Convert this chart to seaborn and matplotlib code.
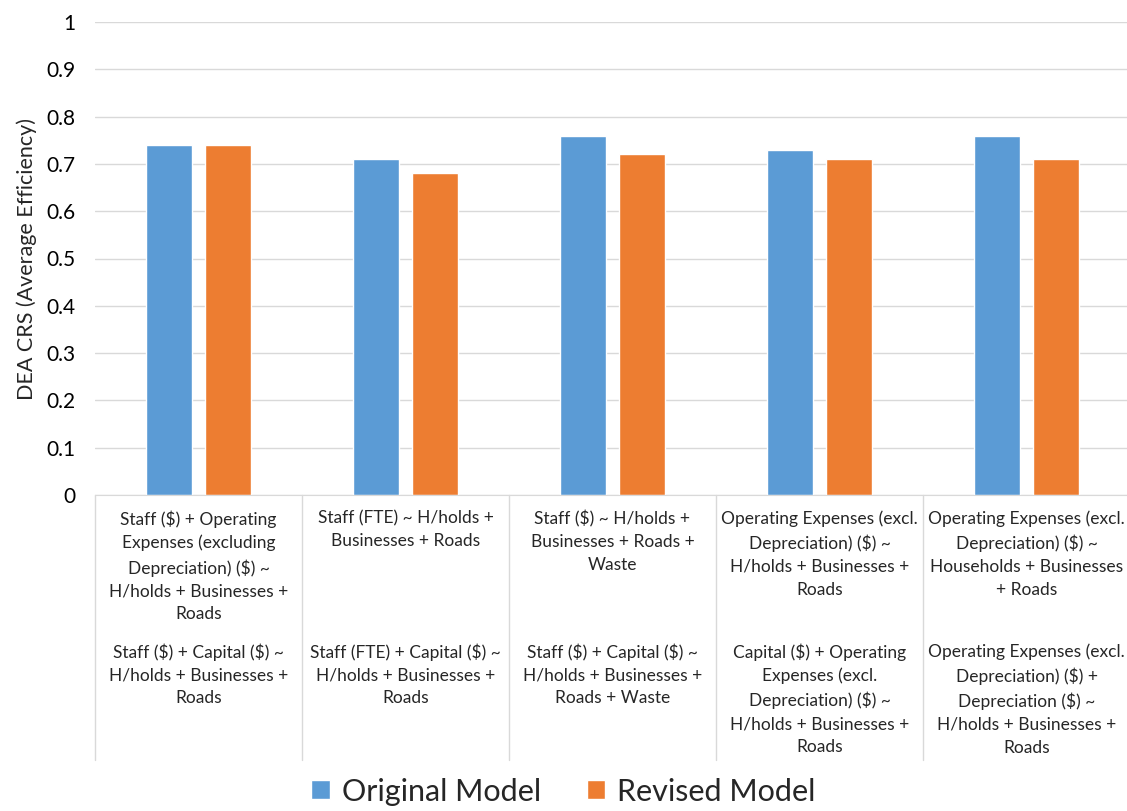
"""DEA CRS average efficiency: original vs revised model specifications."""

import pandas as pd
import seaborn as sns
from matplotlib import pyplot as plt
from matplotlib import transforms

# Data
top_labels = [
    "Staff ($) + Operating\nExpenses (excluding\nDepreciation) ($) ~\nH/holds + Businesses +\nRoads",
    "Staff (FTE) ~ H/holds +\nBusinesses + Roads",
    "Staff ($) ~ H/holds +\nBusinesses + Roads +\nWaste",
    "Operating Expenses (excl.\nDepreciation) ($) ~\nH/holds + Businesses +\nRoads",
    "Operating Expenses (excl.\nDepreciation) ($) ~\nHouseholds + Businesses\n+ Roads",
]
bottom_labels = [
    "Staff ($) + Capital ($) ~\nH/holds + Businesses +\nRoads",
    "Staff (FTE) + Capital ($) ~\nH/holds + Businesses +\nRoads",
    "Staff ($) + Capital ($) ~\nH/holds + Businesses +\nRoads + Waste",
    "Capital ($) + Operating\nExpenses (excl.\nDepreciation) ($) ~\nH/holds + Businesses +\nRoads",
    "Operating Expenses (excl.\nDepreciation) ($) +\nDepreciation ($) ~\nH/holds + Businesses +\nRoads",
]
original = [0.74, 0.71, 0.76, 0.73, 0.76]
revised = [0.74, 0.68, 0.72, 0.71, 0.71]
series = ["Original Model", "Revised Model"]
colors = ["#5B9BD5", "#ED7D31"]

sns.set_style("white")
plt.rcParams["font.family"] = ["Lato", "DejaVu Sans"]
plt.rcParams["text.parse_math"] = False

cats = [f"c{i}" for i in range(len(top_labels))]
df = pd.DataFrame({
    "cat": cats * 2,
    "value": original + revised,
    "model": [series[0]] * len(cats) + [series[1]] * len(cats),
})

fig = plt.figure(figsize=(11.27, 8.11), dpi=100)
ax = fig.add_axes([95 / 1127, 316 / 811, 1035 / 1127, 473 / 811])

sns.barplot(data=df, x="cat", y="value", hue="model", palette=colors,
            width=0.57, gap=0.22, saturation=1, ax=ax)

ax.set_ylim(0, 1)
ax.set_xlim(-0.5, len(cats) - 0.5)
ax.set_yticks([i / 10 for i in range(11)])
ax.set_yticklabels(["0"] + [f"{i / 10:.1f}" for i in range(1, 10)] + ["1"])
ax.yaxis.grid(True, color="#d9d9d9", linewidth=1)
ax.set_axisbelow(True)
for side in ["left", "right", "top"]:
    ax.spines[side].set_visible(False)
ax.spines["bottom"].set_color("#d9d9d9")
ax.tick_params(axis="y", length=0, labelsize=15, pad=14, colors="#000000")
ax.set_xticks([])
ax.set_xlabel("")
ax.set_ylabel("DEA CRS (Average Efficiency)", fontsize=15.5, labelpad=7)

# Two-level category labels with separators
trans = transforms.blended_transform_factory(ax.transData, ax.transAxes)
for i in range(len(cats)):
    ax.text(i, -0.032, top_labels[i], transform=trans, ha="center", va="top",
            fontsize=12.5, linespacing=1.53)
    ax.text(i, -0.313, bottom_labels[i], transform=trans, ha="center", va="top",
            fontsize=12.5, linespacing=1.53)
    ax.plot([i - 0.5, i - 0.5], [0, -0.56], transform=trans, color="#d9d9d9",
            linewidth=1, clip_on=False)

handles, labels = ax.get_legend_handles_labels()
ax.legend_.remove()
fig.legend(handles, labels, loc="center", bbox_to_anchor=(0.5, 0.024),
           ncol=2, frameon=False, fontsize=22, handlelength=0.6,
           handleheight=0.6, handletextpad=0.4, columnspacing=1.5,
           borderpad=0.1)

fig.savefig("out.png", dpi=100)
